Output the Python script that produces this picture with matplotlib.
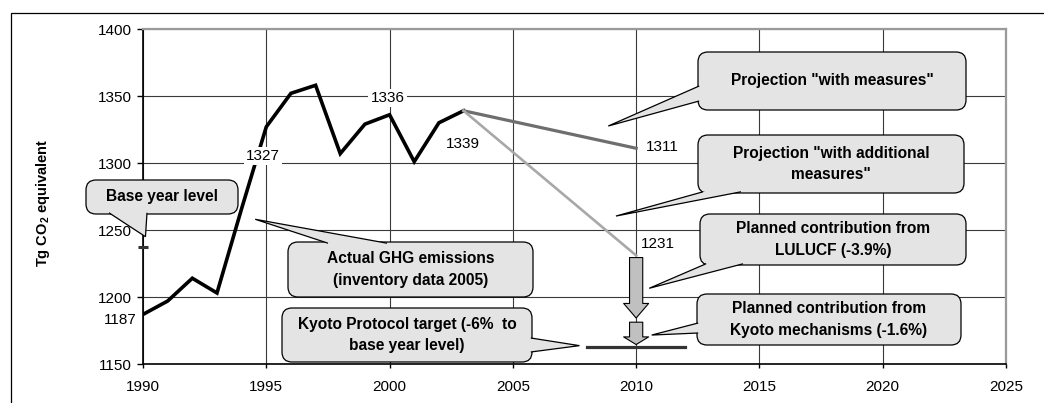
import matplotlib
matplotlib.use("Agg")
import matplotlib.pyplot as plt
import matplotlib.transforms as mtransforms
from matplotlib.patches import FancyBboxPatch, Polygon, Rectangle, FancyArrowPatch

plt.rcParams['font.family'] = ['Liberation Sans', 'DejaVu Sans']
plt.rcParams['mathtext.fontset'] = 'custom'
plt.rcParams['mathtext.rm'] = 'Liberation Sans'
plt.rcParams['mathtext.bf'] = 'Liberation Sans:bold'

# inventory data (Tg CO2 eq.)
years = [1990, 1991, 1992, 1993, 1994, 1995, 1996, 1997, 1998, 1999, 2000, 2001, 2002, 2003]
emissions = [1187, 1197, 1214, 1203, 1266, 1327, 1352, 1358, 1307, 1329, 1336, 1301, 1330, 1339]

# projections to 2010
proj_years = [2003, 2010]
with_measures = [1339, 1311]
with_additional = [1339, 1231]

# Kyoto commitment
base_year = 1990
base_year_level = 1237
target_pct = 6.0
lulucf_pct = 3.9
mechanisms_pct = 1.6
target_period = [2008, 2012]

kyoto_target = base_year_level * (1 - target_pct / 100)
after_lulucf = with_additional[-1] - base_year_level * lulucf_pct / 100
after_mechanisms = after_lulucf - base_year_level * mechanisms_pct / 100

W, H = 1044, 403
fig = plt.figure(figsize=(W / 100, H / 100), dpi=100)
ax = fig.add_axes([143 / W, 1 - 364 / H, 863 / W, 335 / H])

# pixel coordinates measured from the top-left corner of the figure
px = mtransforms.Affine2D().scale(1 / W, -1 / H).translate(0, 1) + fig.transFigure

# outer frame
fig.add_artist(Rectangle((10.5 / W, -0.1), 1.2, 1.1 - 13 / H, transform=fig.transFigure,
                         fill=False, ec='black', lw=0.9, clip_on=False))

ax.set_xlim(1990, 2025)
ax.set_ylim(1150, 1400)
ax.set_xticks(range(1990, 2026, 5))
ax.set_yticks(range(1150, 1401, 50))
ax.tick_params(axis='y', length=4, width=1, pad=4, labelsize=11)
ax.tick_params(axis='x', length=3, width=1, pad=8.5, labelsize=11)
ax.grid(True, color='#3a3a3a', lw=0.8)
ax.set_axisbelow(True)
for side in ['left', 'bottom']:
    ax.spines[side].set_color('black')
    ax.spines[side].set_linewidth(1.2)
for side in ['top', 'right']:
    ax.spines[side].set_color('#9a9a9a')
    ax.spines[side].set_linewidth(1.6)

ax.set_ylabel(r'Tg CO$_{\mathbf{2}}$ equivalent', fontsize=10.5, fontweight='bold')
ax.yaxis.set_label_coords(-0.106, 0.482)

# emission lines
ax.plot(years, emissions, color='black', lw=2.6, zorder=3, solid_joinstyle='miter')
ax.plot(proj_years, with_measures, color='#6e6e6e', lw=2.3, zorder=3)
ax.plot(proj_years, with_additional, color='#a8a8a8', lw=1.9, zorder=3)

# base year level and Kyoto target
ax.plot([base_year], [base_year_level], marker='_', ms=7.5, mew=2.2, color='#333333',
        clip_on=False, zorder=4)
ax.plot(target_period, [kyoto_target, kyoto_target], color='#333333', lw=2.3, zorder=3)

# contributions needed to reach the target
for y0, y1, hl in [(with_additional[-1], after_lulucf, 10.5),
                   (after_lulucf, after_mechanisms, 5.5)]:
    arr = FancyArrowPatch((2010, y0), (2010, y1),
                          arrowstyle=f'simple,head_width=18,head_length={hl},tail_width=9.5',
                          mutation_scale=1, fc='#c0c0c0', ec='black', lw=0.8,
                          shrinkA=1.5, shrinkB=1.5, zorder=4)
    ax.add_patch(arr)

# value labels
labels = [(1990, 1187, -23, -6, False),
          (1995, 1327, -3, -29, True),
          (2000, 1336, -2, 17, True),
          (2003, 1339, -1, -33, False),
          (2010, 1311, 26, 1, False),
          (2010, 1231, 22, 11, False)]
for x, v, dx, dy, boxed in labels:
    bbox = dict(fc='white', ec='none', pad=1.5) if boxed else None
    ax.annotate(f'{v}', (x, v), xytext=(dx, dy), textcoords='offset pixels',
                ha='center', va='center', fontsize=11, bbox=bbox,
                annotation_clip=False, zorder=6)


def to_px(x, y):
    return px.inverted().transform(ax.transData.transform((x, y)))


def callout(text, box, base, tip):
    x0, y0, x1, y1 = box
    rect = FancyBboxPatch((x0, y0), x1 - x0, y1 - y0,
                          boxstyle='round,pad=0,rounding_size=10',
                          transform=px, fc='#e4e4e4', ec='black', lw=0.9,
                          zorder=7, clip_on=False)
    fig.add_artist(rect)
    tx, ty = to_px(*tip)
    # open path so the pointer merges with the box outline
    wedge = Polygon([base[0], (tx, ty), base[1]], closed=False, transform=px,
                    fc='#e4e4e4', ec='black', lw=0.9, zorder=7.5, clip_on=False,
                    joinstyle='miter')
    fig.add_artist(wedge)
    fig.text((x0 + x1) / 2, (y0 + y1) / 2, text, transform=px, ha='center',
             va='center', fontsize=11.2, fontweight='bold', zorder=8,
             linespacing=1.55)


callout('Base year level', (86, 180, 238, 214),
        [(109, 212.8), (147, 212.8)], (1990.1, 1245))
callout('Actual GHG emissions\n(inventory data 2005)', (288, 242, 533, 297),
        [(328, 243.2), (387, 243.2)], (1994.55, 1258))
callout('Kyoto Protocol target (-6%  to\nbase year level)', (282, 308, 532, 362),
        [(530.8, 338), (530.8, 352)], (2007.7, 1163.7))
callout('Projection "with measures"', (698, 52, 966, 110),
        [(699.2, 86), (699.2, 101)], (2008.87, 1327.6))
callout('Projection "with additional\nmeasures"', (698, 135, 964, 193),
        [(703, 191.8), (741, 191.8)], (2009.18, 1260.4))
callout('Planned contribution from\nLULUCF (-3.9%)', (700, 214, 966, 265),
        [(706, 263.8), (743, 263.8)], (2010.53, 1206.5))
callout('Planned contribution from\nKyoto mechanisms (-1.6%)', (697, 294, 961, 345),
        [(698.2, 323), (698.2, 333)], (2010.63, 1171.6))

fig.savefig('out.png', dpi=100)
